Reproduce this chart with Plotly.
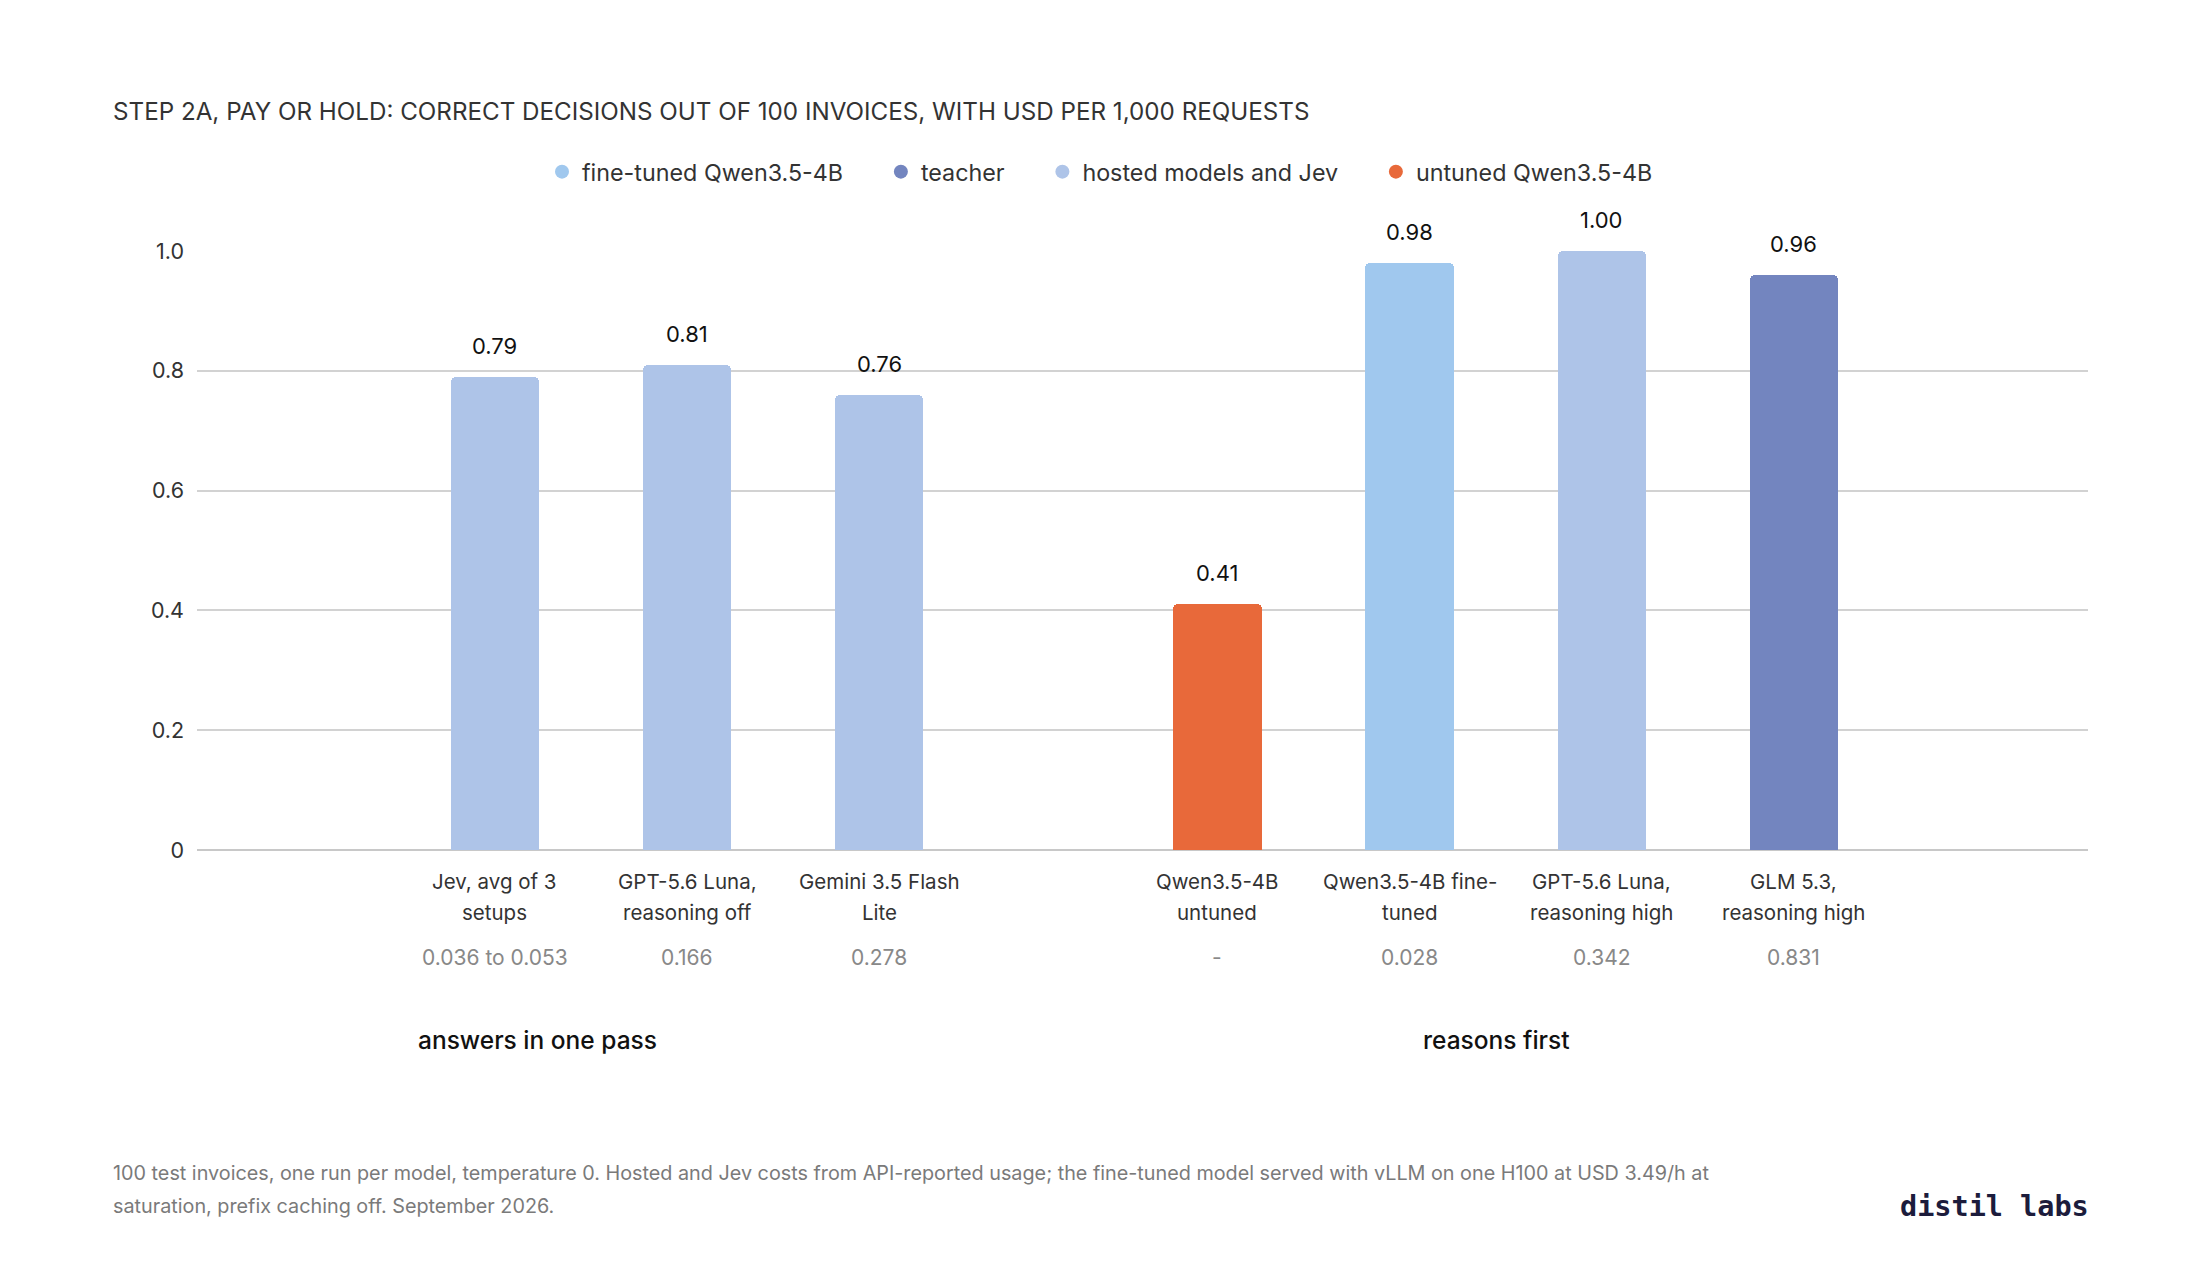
import plotly.graph_objects as go

# data
CATEGORIES = [
    "Jev, avg of 3<br>setups",
    "GPT-5.6 Luna,<br>reasoning off",
    "Gemini 3.5 Flash<br>Lite",
    "Qwen3.5-4B<br>untuned",
    "Qwen3.5-4B fine-<br>tuned",
    "GPT-5.6 Luna,<br>reasoning high",
    "GLM 5.3,<br>reasoning high",
]
SCORES = [0.79, 0.81, 0.76, 0.41, 0.98, 1.00, 0.96]
COSTS = ["0.036 to 0.053", "0.166", "0.278", "-", "0.028", "0.342", "0.831"]
KINDS = ["hosted", "hosted", "hosted", "untuned", "finetuned", "hosted", "teacher"]
GROUPS = [0, 0, 0, 1, 1, 1, 1]
GROUP_NAMES = ["answers in one pass", "reasons first"]
Y_TICKS = [0, 0.2, 0.4, 0.6, 0.8, 1.0]
Y_TICK_TEXT = ["0", "0.2", "0.4", "0.6", "0.8", "1.0"]

KIND_COLORS = {
    "finetuned": "#a0c8ee",
    "teacher": "#7385bf",
    "hosted": "#aec4e8",
    "untuned": "#e8693a",
}
LEGEND_ORDER = [
    ("finetuned", "fine-tuned Qwen3.5-4B"),
    ("teacher", "teacher"),
    ("hosted", "hosted models and Jev"),
    ("untuned", "untuned Qwen3.5-4B"),
]

TITLE = "STEP 2A, PAY OR HOLD: CORRECT DECISIONS OUT OF 100 INVOICES, WITH USD PER 1,000 REQUESTS"
FOOTNOTE = [
    "100 test invoices, one run per model, temperature 0. Hosted and Jev costs from API-reported usage; "
    "the fine-tuned model served with vLLM on one H100 at USD 3.49/h at",
    "saturation, prefix caching off. September 2026.",
]

FONT = "Inter, Roboto, sans-serif"
W, H = 2200, 1280
PAGE_PAD = 8  # browser body margin shifts the whole figure
ML, MR, MT, MB = 189, 120, 243, 438
GROUP_GAP = 0.76  # extra space between the two groups, in slot units


def canvas(px, py):
    """pixel position on the reference canvas -> paper coords of the plot area"""
    x = (px - PAGE_PAD - ML) / (W - ML - MR)
    y = (H - (py - PAGE_PAD) - MB) / (H - MT - MB)
    return x, y


# x position of each bar: its index plus a gap per group
xs = [i + g * GROUP_GAP for i, g in enumerate(GROUPS)]

fig = go.Figure()

fig.add_trace(go.Bar(
    x=xs,
    y=SCORES,
    width=0.46,
    marker=dict(color=[KIND_COLORS[k] for k in KINDS], cornerradius=5, line_width=0),
    showlegend=False,
    hoverinfo="skip",
))

# legend entries drawn as circles
for n, (kind, name) in enumerate(LEGEND_ORDER):
    pad = "\u00a0" * 5 if n < len(LEGEND_ORDER) - 1 else ""
    fig.add_trace(go.Scatter(
        x=[None], y=[None], mode="markers", name=name + pad,
        marker=dict(color=KIND_COLORS[kind], size=14, symbol="circle"),
    ))

annotations = []
# value labels above bars
for x, s in zip(xs, SCORES):
    annotations.append(dict(
        x=x, y=s, xref="x", yref="y", text=f"{s:.2f}", showarrow=False,
        yanchor="middle", yshift=31,
        font=dict(family=FONT, size=22, color="#111111"),
    ))

# category labels, costs below the axis
for x, label, cost in zip(xs, CATEGORIES, COSTS):
    for n, line in enumerate(label.split("<br>")):
        annotations.append(dict(
            x=x, y=0, xref="x", yref="paper", text=line, showarrow=False,
            yanchor="middle", yshift=-31 - 31 * n,
            font=dict(family=FONT, size=20.5, color="#333333"),
        ))
    annotations.append(dict(
        x=x, y=0, xref="x", yref="paper", text=cost, showarrow=False,
        yanchor="middle", yshift=-107,
        font=dict(family=FONT, size=21, color="#888888"),
    ))

# group labels
group_x = [0.22, 5.21]
for gx, gname in zip(group_x, GROUP_NAMES):
    annotations.append(dict(
        x=gx, y=0, xref="x", yref="paper", text=gname, showarrow=False,
        yanchor="middle", yshift=-190,
        font=dict(family=FONT, size=24.5, color="#111111", weight=500),
    ))

# title
tx, ty = canvas(111, 111)
annotations.append(dict(
    x=tx, y=ty, xref="paper", yref="paper", text=TITLE,
    showarrow=False, xanchor="left", yanchor="middle",
    font=dict(family=FONT, size=24.2, color="#333333"),
))

# footnote, one annotation per line
for line, py in zip(FOOTNOTE, [1173, 1206]):
    fx, fy = canvas(111, py)
    annotations.append(dict(
        x=fx, y=fy, xref="paper", yref="paper", text=line,
        showarrow=False, xanchor="left", yanchor="middle",
        font=dict(family=FONT, size=19.8, color="#7a7a7a"),
    ))

# logo
lx, ly = canvas(2091, 1206)
annotations.append(dict(
    x=lx, y=ly, xref="paper", yref="paper", text="<b>distil labs</b>",
    showarrow=False, xanchor="right", yanchor="middle",
    font=dict(family="DejaVu Sans Mono", size=28.5, color="#1c1c3c"),
))

fig.update_layout(
    width=W,
    height=H,
    margin=dict(l=ML, r=MR, t=MT, b=MB),
    paper_bgcolor="white",
    plot_bgcolor="white",
    font=dict(family=FONT, color="#333333"),
    bargap=0,
    xaxis=dict(
        range=[-1.55, 8.29],
        showticklabels=False,
        showgrid=False,
        zeroline=False,
        fixedrange=True,
    ),
    yaxis=dict(
        range=[0, 1.0],
        tickvals=Y_TICKS,
        ticktext=Y_TICK_TEXT,
        tickfont=dict(family=FONT, size=21.5, color="#333333"),
        gridcolor="#d2d2d2",
        gridwidth=1.5,
        zeroline=True,
        zerolinecolor="#c8c8c8",
        zerolinewidth=2,
        ticks="",
        ticklabelstandoff=12,
    ),
    legend=dict(
        orientation="h",
        xref="container",
        yref="container",
        x=0.5 - PAGE_PAD / W,
        xanchor="center",
        y=1 - (172 - PAGE_PAD) / H,
        yanchor="middle",
        font=dict(family=FONT, size=23.3, color="#333333"),
        itemwidth=30,
    ),
    annotations=annotations,
)

fig.write_html("out.html")
